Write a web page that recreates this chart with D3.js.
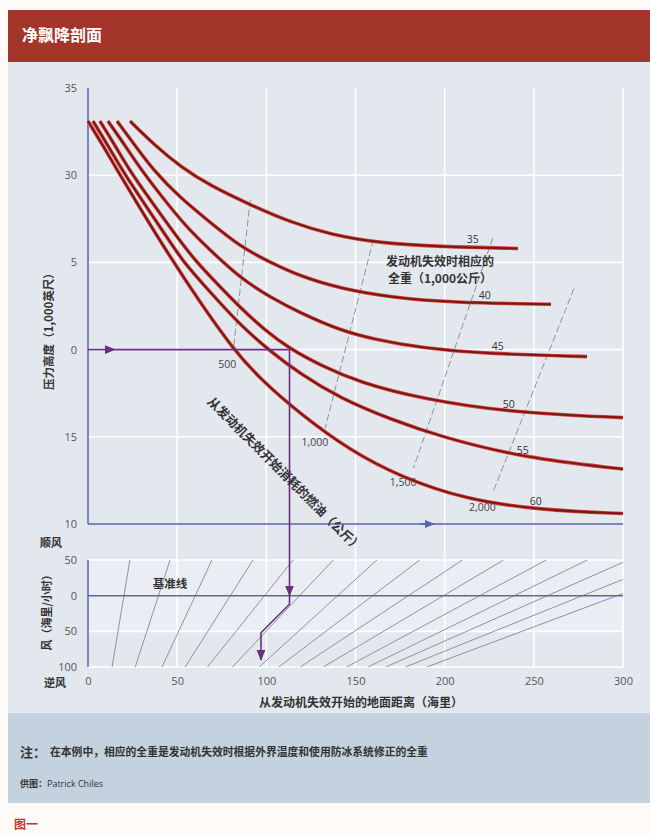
<!DOCTYPE html>
<html>
<head>
<meta charset="utf-8">
<script src="https://cdn.jsdelivr.net/npm/d3@7"></script>
<style>
  body { margin: 0; background: #fff; }
  svg { display: block; }
  .tick text { font-family: "Open Sans", sans-serif; font-size: 11px; fill: #555; }
  .cjk { font-family: "Noto Sans CJK SC", sans-serif; font-weight: 700; fill: #333; }
</style>
</head>
<body>
<div id="chart"></div>
<script>
// ---- data ----
const distanceTicks = [0, 50, 100, 150, 200, 250, 300];
const altitudeTicks = [35, 30, 25, 20, 15, 10];
const altitudeTickLabels = ['35', '30', '5', '0', '15', '10'];
const windTicks = [50, 0, -50, -100];
const windTickLabels = ['50', '0', '50', '100'];

// gross weight curves, [distance nm, pressure altitude 1000 ft]
const weights = ['35', '40', '45', '50', '55', '60'];
const curve35 = [[23.6, 33.1], [37.6, 31.7], [51.7, 30.5], [68.5, 29.4], [91.0, 28.3], [113.5, 27.3], [136.0, 26.6], [164.0, 26.1], [197.8, 25.9], [241.0, 25.8]];
const curve40 = [[16.3, 33.1], [26.4, 31.7], [36.5, 30.3], [51.7, 28.7], [68.5, 27.3], [85.4, 25.9], [102.2, 25.0], [119.1, 24.2], [141.6, 23.5], [169.7, 23.0], [203.4, 22.7], [259.6, 22.6]];
const curve45 = [[11.2, 33.1], [20.8, 31.7], [29.2, 30.4], [40.4, 28.9], [54.5, 27.1], [68.5, 25.7], [85.4, 24.1], [102.2, 23.0], [119.1, 22.1], [141.6, 21.1], [160.1, 20.6], [186.5, 20.1], [225.8, 19.75], [279.8, 19.6]];
const curve50 = [[6.7, 33.1], [15.2, 31.7], [22.5, 30.4], [34.8, 28.6], [48.9, 26.6], [60.1, 25.1], [71.3, 23.9], [85.4, 22.4], [99.4, 21.1], [112.4, 20.1], [130.3, 19.1], [152.8, 18.1], [186.5, 17.2], [235.9, 16.4], [300, 16.1]];
const curve55 = [[2.8, 33.1], [11.2, 31.7], [19.7, 30.2], [32.0, 28.3], [43.3, 26.6], [52.8, 25.1], [68.5, 23.3], [85.4, 21.4], [102.2, 19.9], [119.1, 18.6], [141.6, 17.2], [169.7, 16.0], [197.8, 15.0], [243.8, 13.8], [300, 13.15]];
const curve60 = [[0, 33.1], [8.4, 31.7], [16.9, 30.2], [29.2, 28.1], [46.1, 25.3], [62.9, 22.7], [80.9, 20.1], [96.6, 18.3], [119.1, 16.3], [147.2, 14.2], [175.3, 12.7], [211.8, 11.4], [253.9, 10.8], [300, 10.6]];
const weightCurves = [curve35, curve40, curve45, curve50, curve55, curve60];
const weightLabelDistance = [215.7, 222.5, 229.8, 236, 243.8, 251.1];

// fuel burned isolines (kg)
const fuelLabels = ['500', '1,000', '1,500', '2,000'];
const fuelTop = [[91.0, 28.6], [160, 26.3], [227, 26.4], [272.5, 23.5]];
const fuelBottom = [[81.5, 20.0], [133, 15.5], [182.5, 13.2], [227, 11.8]];

// wind correction lines: distance at 100 kt headwind and at 50 kt tailwind
const windLineBottom = [13.5, 26.5, 41.5, 54.5, 67, 81, 96, 107, 119, 132, 145, 157, 167, 178, 190];
const windLineTop = [23.5, 46, 69.5, 92.5, 115, 137.5, 162, 186, 210, 233, 257, 280, 303, 327, 350];

// worked example
const exampleAltitude = 20;
const exampleDistance = 113;
const exampleWindStart = -12;
const exampleWind = -52;
const exampleWindEnd = -90;
const correctedDistance = 97;

// ---- drawing ----
const width = 650, height = 835;
const svg = d3.select('#chart').append('svg')
    .attr('width', width)
    .attr('height', height);

svg.append('rect').attr('width', width).attr('height', height).attr('fill', '#fdfaf8');
svg.append('rect').attr('x', 8).attr('y', 10).attr('width', 642).attr('height', 52).attr('fill', '#a3352b');
svg.append('rect').attr('x', 8).attr('y', 62).attr('width', 642).attr('height', 651).attr('fill', '#e3e8ef');
svg.append('rect').attr('x', 8).attr('y', 713).attr('width', 642).attr('height', 90).attr('fill', '#c3d2de');

svg.append('text')
    .attr('x', 22).attr('y', 41)
    .style('font-family', '"Noto Sans CJK SC", sans-serif')
    .style('font-weight', 700)
    .style('font-size', '16px')
    .attr('fill', '#fff')
    .text('净飘降剖面');

const x = d3.scaleLinear().domain([0, 300]).range([88, 623]);
const yAlt = d3.scaleLinear().domain([10, 35]).range([524, 88]);
const yWind = d3.scaleLinear().domain([-100, 50]).range([667, 560]);

const defs = svg.append('defs');
defs.append('clipPath').attr('id', 'wind-clip')
    .append('rect')
    .attr('x', x(0)).attr('y', yWind(50))
    .attr('width', x(300) - x(0)).attr('height', yWind(-100) - yWind(50));

function addArrow(id, color) {
    defs.append('marker')
        .attr('id', id)
        .attr('viewBox', '0 -5 10 10')
        .attr('refX', 9)
        .attr('refY', 0)
        .attr('orient', 'auto')
        .attr('markerWidth', 7)
        .attr('markerHeight', 7)
        .append('path')
        .attr('d', 'M0,-4L10,0L0,4Z')
        .attr('fill', color);
}
addArrow('arrow-purple', '#6a2f7c');
addArrow('arrow-blue', '#5b64b0');

// lighter band in the wind panel
svg.append('rect')
    .attr('x', x(0)).attr('y', yWind(50))
    .attr('width', x(300) - x(0)).attr('height', yWind(-50) - yWind(50))
    .attr('fill', '#eaeef4');

// grid
const grid = svg.append('g').attr('stroke', '#fff').attr('stroke-width', 1.6);
grid.selectAll('.vgrid')
    .data(distanceTicks.slice(1))
    .join('line')
    .attr('x1', d => x(d)).attr('x2', d => x(d))
    .attr('y1', yAlt(35)).attr('y2', yWind(-100));
grid.selectAll('.hgrid')
    .data(altitudeTicks.filter(d => d < 35 && d > 10))
    .join('line')
    .attr('x1', x(0)).attr('x2', x(300))
    .attr('y1', d => yAlt(d)).attr('y2', d => yAlt(d));
grid.selectAll('.wgrid')
    .data(windTicks.filter(d => d !== 0))
    .join('line')
    .attr('x1', x(0)).attr('x2', x(300))
    .attr('y1', d => yWind(d)).attr('y2', d => yWind(d));

// wind correction lines
svg.append('g')
    .attr('clip-path', 'url(#wind-clip)')
    .selectAll('line')
    .data(windLineBottom)
    .join('line')
    .attr('x1', d => x(d)).attr('y1', yWind(-100))
    .attr('x2', (d, i) => x(windLineTop[i])).attr('y2', yWind(50))
    .attr('stroke', '#85888f')
    .attr('stroke-width', 0.9);

// axis lines
const axisColor = '#5b64b0';
svg.append('line').attr('x1', x(0)).attr('x2', x(0)).attr('y1', yAlt(35)).attr('y2', yAlt(10))
    .attr('stroke', axisColor).attr('stroke-width', 1.5);
svg.append('line').attr('x1', x(0)).attr('x2', x(300)).attr('y1', yAlt(10)).attr('y2', yAlt(10))
    .attr('stroke', axisColor).attr('stroke-width', 1.5);
svg.append('line').attr('x1', x(0)).attr('x2', x(0)).attr('y1', yWind(50)).attr('y2', yWind(-100))
    .attr('stroke', axisColor).attr('stroke-width', 1.5);
svg.append('line').attr('x1', x(0)).attr('x2', x(300)).attr('y1', yWind(0)).attr('y2', yWind(0))
    .attr('stroke', axisColor).attr('stroke-width', 1.5);
svg.append('line').attr('x1', x(186)).attr('x2', x(194)).attr('y1', yAlt(10)).attr('y2', yAlt(10))
    .attr('stroke', axisColor).attr('stroke-width', 1.5)
    .attr('marker-end', 'url(#arrow-blue)');

// fuel isolines
svg.append('g')
    .selectAll('line')
    .data(fuelTop)
    .join('line')
    .attr('x1', d => x(d[0])).attr('y1', d => yAlt(d[1]))
    .attr('x2', (d, i) => x(fuelBottom[i][0])).attr('y2', (d, i) => yAlt(fuelBottom[i][1]))
    .attr('stroke', '#8d929b')
    .attr('stroke-width', 1)
    .attr('stroke-dasharray', '7,3');

svg.append('g')
    .selectAll('text')
    .data(fuelLabels)
    .join('text')
    .attr('x', (d, i) => x(fuelBottom[i][0]) + 3)
    .attr('y', (d, i) => yAlt(fuelBottom[i][1]) + 18)
    .attr('text-anchor', 'end')
    .style('font-family', '"Open Sans", sans-serif')
    .style('font-size', '10.5px')
    .attr('fill', '#444')
    .text(d => d);

// weight curves
const line = d3.line()
    .x(d => x(d[0]))
    .y(d => yAlt(d[1]))
    .curve(d3.curveBasis);

const curves = svg.append('g');
curves.selectAll('.curve-halo')
    .data(weightCurves)
    .join('path')
    .attr('d', line)
    .attr('fill', 'none')
    .attr('stroke', '#d2463c')
    .attr('stroke-width', 3.6);
curves.selectAll('.curve-core')
    .data(weightCurves)
    .join('path')
    .attr('d', line)
    .attr('fill', 'none')
    .attr('stroke', '#7c1716')
    .attr('stroke-width', 2);

function altitudeAt(points, dist) {
    const i = Math.max(1, Math.min(points.length - 1, d3.bisector(p => p[0]).left(points, dist)));
    const a = points[i - 1], b = points[i];
    const t = (dist - a[0]) / (b[0] - a[0]);
    return a[1] + t * (b[1] - a[1]);
}

svg.append('g')
    .selectAll('text')
    .data(weights)
    .join('text')
    .attr('x', (d, i) => x(weightLabelDistance[i]))
    .attr('y', (d, i) => yAlt(altitudeAt(weightCurves[i], weightLabelDistance[i])) - 4)
    .attr('text-anchor', 'middle')
    .style('font-family', '"Open Sans", sans-serif')
    .style('font-size', '10.5px')
    .attr('fill', '#333')
    .text(d => d);

// worked example path
const exampleColor = '#6a2f7c';
svg.append('line')
    .attr('x1', x(0)).attr('y1', yAlt(exampleAltitude))
    .attr('x2', x(15)).attr('y2', yAlt(exampleAltitude))
    .attr('stroke', exampleColor).attr('stroke-width', 1.6)
    .attr('marker-end', 'url(#arrow-purple)');
svg.append('line')
    .attr('x1', x(15)).attr('y1', yAlt(exampleAltitude))
    .attr('x2', x(exampleDistance)).attr('y2', yAlt(exampleAltitude))
    .attr('stroke', exampleColor).attr('stroke-width', 1.6);
svg.append('line')
    .attr('x1', x(exampleDistance)).attr('y1', yAlt(exampleAltitude))
    .attr('x2', x(exampleDistance)).attr('y2', yWind(0))
    .attr('stroke', exampleColor).attr('stroke-width', 1.6)
    .attr('marker-end', 'url(#arrow-purple)');
svg.append('path')
    .attr('d', d3.line()([
        [x(exampleDistance), yWind(0)],
        [x(exampleDistance), yWind(exampleWindStart)],
        [x(correctedDistance), yWind(exampleWind)],
        [x(correctedDistance), yWind(exampleWindEnd)]
    ]))
    .attr('fill', 'none')
    .attr('stroke', exampleColor).attr('stroke-width', 1.6)
    .attr('marker-end', 'url(#arrow-purple)');

// axes
svg.append('g')
    .attr('transform', `translate(${x(0)},0)`)
    .call(d3.axisLeft(yAlt).tickValues(altitudeTicks).tickFormat((d, i) => altitudeTickLabels[i]).tickSize(0).tickPadding(11))
    .call(g => g.select('.domain').remove());

svg.append('g')
    .attr('transform', `translate(${x(0)},0)`)
    .call(d3.axisLeft(yWind).tickValues(windTicks).tickFormat((d, i) => windTickLabels[i]).tickSize(0).tickPadding(11))
    .call(g => g.select('.domain').remove());

svg.append('g')
    .attr('transform', `translate(0,${yWind(-100)})`)
    .call(d3.axisBottom(x).tickValues(distanceTicks).tickSize(0).tickPadding(10))
    .call(g => g.select('.domain').remove());

// text labels
function cjk(t, px, py, size, anchor) {
    return svg.append('text')
        .attr('class', 'cjk')
        .attr('x', px).attr('y', py)
        .attr('text-anchor', anchor || 'middle')
        .attr('dominant-baseline', 'middle')
        .style('font-size', size + 'px')
        .text(t);
}

cjk('压力高度（1,000英尺）', 0, 0, 11.5)
    .attr('transform', `translate(50,${yAlt(21.2)}) rotate(-90)`);
cjk('风（海里/小时）', 0, 0, 11)
    .attr('transform', `translate(48,${yWind(-20)}) rotate(-90)`);
cjk('顺风', 51, 544, 11);
cjk('逆风', 55, 684, 11);
cjk('从发动机失效开始的地面距离（海里）', 361, 704, 12);
cjk('基准线', 170, 585, 11.5);
cjk('发动机失效时相应的', 440, 263, 12);
cjk('全重（1,000公斤）', 440, 280, 12);
cjk('从发动机失效开始消耗的燃油（公斤）', 0, 0, 12.5, 'start')
    .attr('transform', 'translate(209,400) rotate(45)');

// note block
cjk('注：', 20, 753, 13, 'start').attr('fill', '#2a2a2a');
cjk('在本例中，相应的全重是发动机失效时根据外界温度和使用防冰系统修正的全重', 50, 753, 10.8, 'start')
    .attr('fill', '#2a2a2a');
cjk('供图：', 20, 785, 9, 'start').attr('fill', '#2a2a2a');
svg.append('text')
    .attr('x', 47).attr('y', 785)
    .attr('dominant-baseline', 'middle')
    .style('font-family', '"Open Sans", sans-serif')
    .style('font-size', '9px')
    .attr('fill', '#333')
    .text('Patrick Chiles');

svg.append('text')
    .attr('x', 14).attr('y', 826)
    .attr('dominant-baseline', 'middle')
    .style('font-family', '"Noto Sans CJK SC", sans-serif')
    .style('font-weight', 700)
    .style('font-size', '12px')
    .attr('fill', '#c0392b')
    .text('图一');
</script>
</body>
</html>
